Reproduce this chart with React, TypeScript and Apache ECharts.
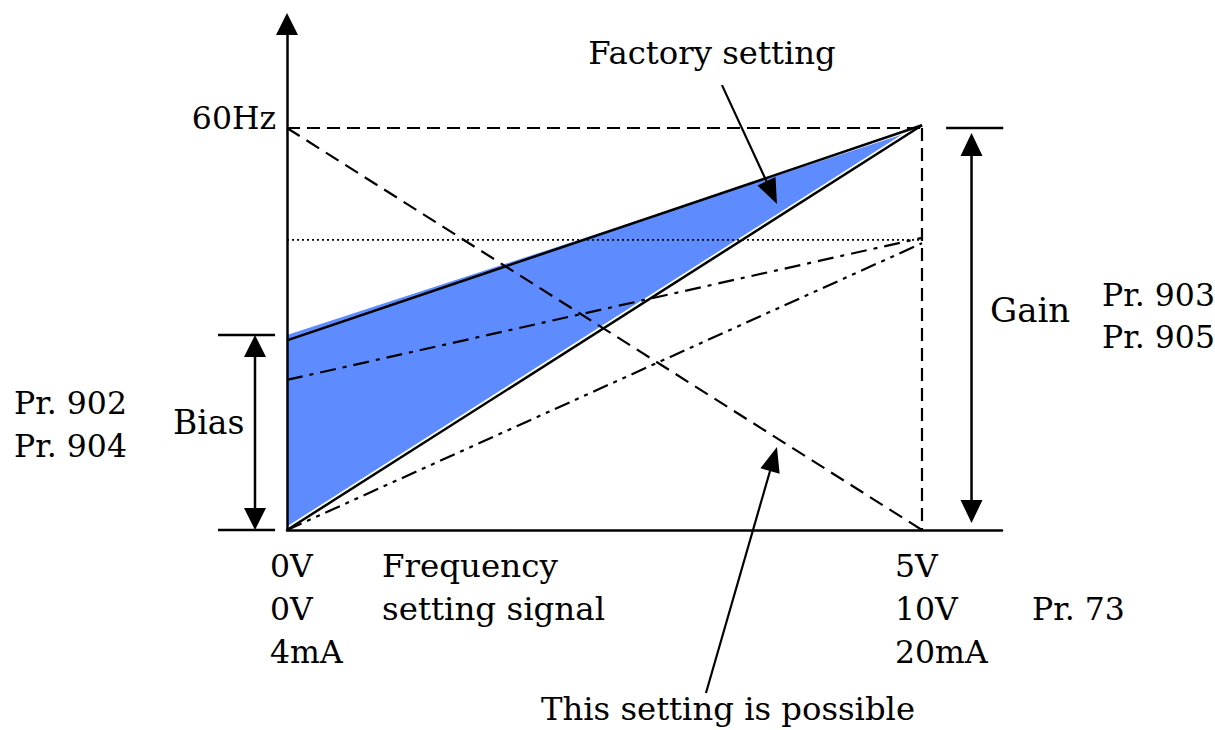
import React, { useEffect, useRef } from 'react';
import * as echarts from 'echarts';

const FONT = '"DejaVu Serif", serif';

// x: frequency setting signal (0..5 V scale), y: output frequency (Hz)
const xMax = 5.63;
const yMax = 75.52;
const regionPolygon = [[0, 29.1], [5, 60], [0, 0.4]];
const factoryLine = [[0, 28.3], [5, 60.4]];
const fullRangeLine = [[0, 0], [5, 60.4]];
const reverseLine = [[0, 60], [5, 0]];
const ratedLevelTop = [[0, 60], [5, 60]];
const ratedLevelSide = [[5, 60], [5, 0]];
const dottedLevel = [[0, 43.3], [5, 43.3]];
const dashDotLine = [[0, 22.4], [5, 43.6]];
const dashDotDotLine = [[0, 0], [5, 42.8]];
const gainArrow = [[5.39, 59.25], [5.39, 1.05]];
const gainTick = [[5.19, 60], [5.64, 60]];
const biasArrow = [[-0.252, 29.1], [-0.252, 0]];
const biasTicks = [
  [[-0.543, 29.1], [-0.094, 29.1]],
  [[-0.543, 0], [-0.094, 0]],
];
const factoryPointer = [[3.425, 66.4], [3.858, 48.66]];
const possiblePointer = [[3.299, -24.33], [3.858, 12.39]];

const leftLabels = ['0V', '0V', '4mA'];
const rightLabels = ['5V', '10V', '20mA'];

function head(tip: number[], from: number[], L: number, W: number) {
  const dx = tip[0] - from[0];
  const dy = tip[1] - from[1];
  const len = Math.hypot(dx, dy);
  const ux = dx / len;
  const uy = dy / len;
  const bx = tip[0] - ux * L;
  const by = tip[1] - uy * L;
  const nx = -uy;
  const ny = ux;
  return {
    base: [bx, by],
    el: {
      type: 'polygon',
      shape: {
        points: [
          tip,
          [bx + (nx * W) / 2, by + (ny * W) / 2],
          [bx - (nx * W) / 2, by - (ny * W) / 2],
        ],
      },
      style: { fill: '#000' },
    },
  };
}

function seg(a: number[], b: number[], w = 2) {
  return {
    type: 'line',
    shape: { x1: a[0], y1: a[1], x2: b[0], y2: b[1] },
    style: { stroke: '#000', lineWidth: w },
  };
}

function lineSeries(data: number[][], type: any, width: number, color = '#000', z = 3) {
  return {
    type: 'line',
    data,
    showSymbol: false,
    symbol: 'none',
    z,
    silent: true,
    lineStyle: { color, width, type },
  };
}

export default function App() {
  const ref = useRef<HTMLDivElement>(null);
  useEffect(() => {
    const chart = echarts.init(ref.current!, null, { renderer: 'svg' });
    const text = (t: string, x: number, y: number, align = 'left', fs = 31) => ({
      type: 'text',
      x,
      y,
      style: {
        text: t,
        font: `${fs}px ${FONT}`,
        fill: '#000',
        align,
        verticalAlign: 'middle',
      },
    });
    const texts: any[] = [
      text('60Hz', 276, 118, 'right', 31.5),
      text('Factory setting', 712, 53, 'center', 32.3),
      text('Gain', 990, 310, 'left', 34),
      text('Pr. 903', 1102, 295, 'left', 31.5),
      text('Pr. 905', 1102, 337, 'left', 31.5),
      text('Pr. 902', 14, 403, 'left', 31.5),
      text('Pr. 904', 14, 446, 'left', 31.5),
      text('Bias', 173, 422, 'left', 33),
      text('Frequency', 382, 566, 'left', 32.5),
      text('setting signal', 382, 609, 'left', 32.5),
      text('Pr. 73', 1032, 609, 'left', 31.5),
      text('This setting is possible', 728, 709, 'center', 32.3),
    ];
    leftLabels.forEach((t, i) => texts.push(text(t, 270, 566 + i * 43, 'left', 31.5)));
    rightLabels.forEach((t, i) => texts.push(text(t, 895, 566 + i * 43, 'left', 31.5)));

    const option: any = {
      animation: false,
      backgroundColor: '#fff',
      grid: { left: 287, right: 213, top: 24, bottom: 200, containLabel: false, outerBoundsMode: 'none' },
      xAxis: {
        type: 'value',
        min: 0,
        max: xMax,
        z: 5,
        axisLine: { show: true, onZero: false, lineStyle: { color: '#000', width: 2.5 } },
        axisTick: { show: false },
        axisLabel: { show: false },
        splitLine: { show: false },
      },
      yAxis: {
        type: 'value',
        min: 0,
        max: yMax,
        z: 5,
        axisLine: {
          show: true,
          onZero: false,
          symbol: ['none', 'triangle'],
          symbolSize: [22, 22],
          lineStyle: { color: '#000', width: 2.5 },
        },
        axisTick: { show: false },
        axisLabel: { show: false },
        splitLine: { show: false },
      },
      graphic: { elements: texts },
      series: [
        {
          type: 'custom',
          z: 1,
          silent: true,
          clip: false,
          data: regionPolygon,
          renderItem: (params: any, api: any) => {
            if (params.dataIndex !== 0) return null;
            return {
              type: 'polygon',
              shape: { points: regionPolygon.map((p) => api.coord(p)) },
              style: { fill: '#5E8CFF' },
            };
          },
        },
        lineSeries(fullRangeLine, 'solid', 6, '#fff', 2),
        lineSeries(factoryLine, 'solid', 2.5),
        lineSeries(fullRangeLine, 'solid', 2.5),
        lineSeries(reverseLine, [15, 8], 2.2),
        lineSeries(ratedLevelTop, [13, 7], 2.2),
        lineSeries(ratedLevelSide, [13, 7], 2.2),
        lineSeries(dottedLevel, [2, 3], 1.6),
        lineSeries(dashDotLine, [16, 7, 4, 7], 2.2),
        lineSeries(dashDotDotLine, [16, 6, 4, 6, 4, 6], 2.2),
        {
          type: 'custom',
          z: 4,
          silent: true,
          clip: false,
          data: [[0, 0]],
          renderItem: (params: any, api: any) => {
            const children: any[] = [];
            // Gain double arrow
            const ga = api.coord(gainArrow[0]);
            const gb = api.coord(gainArrow[1]);
            const h1 = head(ga, gb, 23, 22);
            const h2 = head(gb, ga, 23, 22);
            children.push(seg(h1.base, h2.base, 2.5), h1.el, h2.el);
            children.push(seg(api.coord(gainTick[0]), api.coord(gainTick[1]), 2.5));
            // Bias double arrow
            const ba = api.coord(biasArrow[0]);
            const bb = api.coord(biasArrow[1]);
            const h3 = head(ba, bb, 22, 22);
            const h4 = head(bb, ba, 22, 22);
            children.push(seg(h3.base, h4.base, 2.5), h3.el, h4.el);
            biasTicks.forEach((t) => children.push(seg(api.coord(t[0]), api.coord(t[1]), 2.5)));
            // Pointers
            [factoryPointer, possiblePointer].forEach((p) => {
              const s = api.coord(p[0]);
              const t = api.coord(p[1]);
              const h = head(t, s, 25, 20);
              children.push(seg(s, h.base, 2.2), h.el);
            });
            return { type: 'group', children };
          },
        },
      ],
    };
    chart.setOption(option);
    return () => chart.dispose();
  }, []);
  return (
    <div
      ref={ref}
      style={{ position: 'fixed', left: 0, top: 0, width: 1215, height: 730, background: '#fff' }}
    />
  );
}
